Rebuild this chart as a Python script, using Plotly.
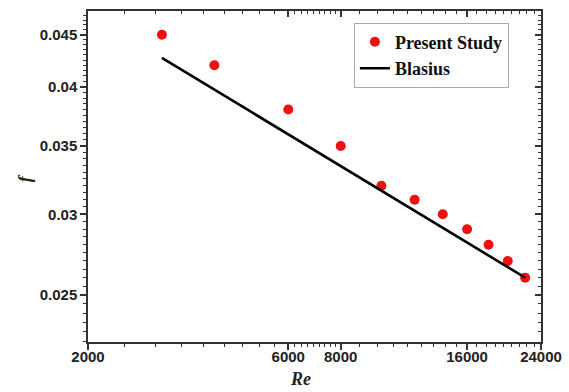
import numpy as np
import plotly.graph_objects as go

re_vals = [3000, 4000, 6000, 8000, 10000, 12000, 14000, 16000, 18000, 20000, 22000]
f_present = [0.045, 0.042, 0.038, 0.035, 0.032, 0.031, 0.030, 0.029, 0.028, 0.027, 0.026]
re_blasius = [3000, 22000]
f_blasius = [0.0427, 0.0260]

x_ticks = [2000, 6000, 8000, 16000, 24000]
x_ticklabels = ["2000", "6000", "8000", "16000", "24000"]
y_ticks = [0.025, 0.03, 0.035, 0.04, 0.045]
y_ticklabels = ["0.025", "0.03", "0.035", "0.04", "0.045"]

# minor tick positions (Origin style subdivisions)
x_minor = ([2000 + k * 4000 / 9 for k in range(1, 9)] +
           [6000 + k * 2000 / 9 for k in range(1, 9)] +
           [8000 + k * 8000 / 9 for k in range(1, 9)] +
           [16000 + k * 8000 / 9 for k in range(1, 9)])
y_minor = [round(0.0225 + 0.0005 * k, 4) for k in range(0, 51)]

x_range = [np.log10(2000), np.log10(24000)]
y_range = [-1.64815, -1.32355]

fig = go.Figure()
fig.add_trace(go.Scatter(
    x=re_vals, y=f_present, mode="markers", name="Present Study",
    marker=dict(color="#ee1111", size=10, line=dict(width=0)),
))
fig.add_trace(go.Scatter(
    x=re_blasius, y=f_blasius, mode="lines", name="Blasius",
    line=dict(color="black", width=2.6),
))

tickfont = dict(family="Liberation Sans, Arial", size=15, color="#222222", weight="bold")
titlefont = dict(family="Liberation Serif, Times New Roman", size=18, color="#222222")

common_x = dict(type="log", range=x_range, showgrid=False, zeroline=False,
                showline=True, linecolor="#333333", linewidth=1.5, automargin=False)
common_y = dict(type="log", range=y_range, showgrid=False, zeroline=False,
                showline=True, linecolor="#333333", linewidth=1.5, automargin=False)

fig.update_layout(
    width=569, height=392,
    margin=dict(l=88, r=28, t=11, b=50),
    paper_bgcolor="white", plot_bgcolor="white",
    xaxis=dict(**common_x, tickmode="array", tickvals=x_ticks, ticktext=x_ticklabels,
               ticks="outside", ticklen=6, tickwidth=1.5, tickcolor="#333333",
               tickfont=tickfont, ticklabelstandoff=-6,
               minor=dict(tickmode="array", tickvals=x_minor, ticks="outside",
                          ticklen=3, tickwidth=1, tickcolor="#333333")),
    yaxis=dict(**common_y, tickmode="array", tickvals=y_ticks, ticktext=y_ticklabels,
               ticks="outside", ticklen=6, tickwidth=1.5, tickcolor="#333333",
               tickfont=tickfont,
               minor=dict(tickmode="array", tickvals=y_minor, ticks="outside",
                          ticklen=3, tickwidth=1, tickcolor="#333333")),
    xaxis2=dict(**common_x, overlaying="x", side="top", anchor="y",
                tickmode="array", tickvals=x_ticks, showticklabels=False,
                ticks="inside", ticklen=6, tickwidth=1.5, tickcolor="#333333",
                minor=dict(tickmode="array", tickvals=x_minor, ticks="inside",
                           ticklen=3, tickwidth=1, tickcolor="#333333")),
    yaxis2=dict(**common_y, overlaying="y", side="right", anchor="x",
                tickmode="array", tickvals=y_ticks, showticklabels=False,
                ticks="inside", ticklen=6, tickwidth=1.5, tickcolor="#333333",
                minor=dict(tickmode="array", tickvals=y_minor, ticks="inside",
                           ticklen=3, tickwidth=1, tickcolor="#333333")),
    legend=dict(x=0.587, y=0.965, xanchor="left", yanchor="top",
                bgcolor="white", bordercolor="#aaaaaa", borderwidth=1,
                font=dict(family="Liberation Serif, Times New Roman", size=18, color="#111111", weight="bold"),
                tracegroupgap=0, itemwidth=30),
    showlegend=True,
    annotations=[
        dict(text="<b><i>Re</i></b>", xref="paper", yref="paper", x=0.468, y=-0.113,
             xanchor="center", yanchor="middle", showarrow=False, font=titlefont),
        dict(text="<b><i>f</i></b>", xref="paper", yref="paper", x=-0.139, y=0.495,
             xanchor="center", yanchor="middle", showarrow=False, font=titlefont,
             textangle=-90),
    ],
)
# invisible trace so the secondary axes are drawn
fig.add_trace(go.Scatter(x=[3000], y=[0.03], xaxis="x2", yaxis="y2", mode="markers",
                         marker=dict(opacity=0), showlegend=False, hoverinfo="skip"))

fig.write_html("out.html")
